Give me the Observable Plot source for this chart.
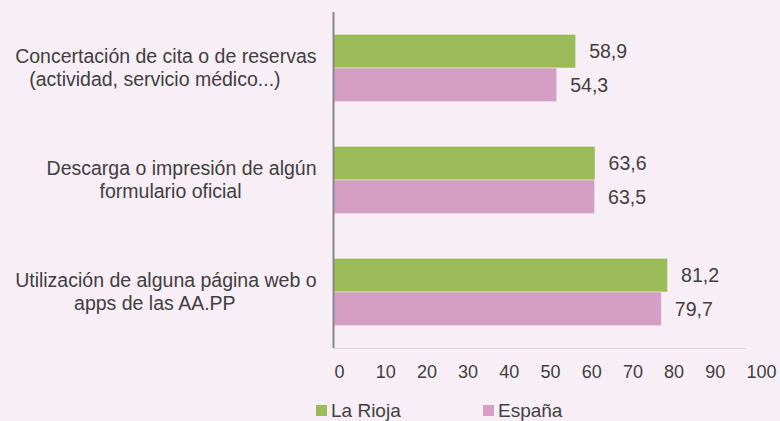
<!DOCTYPE html>
<html><head><meta charset="utf-8">
<script src="https://cdn.jsdelivr.net/npm/d3@7"></script>
<script src="https://cdn.jsdelivr.net/npm/@observablehq/plot@0.6"></script>
<style>
html,body{margin:0;padding:0;background:#F8EEF6;font-family:"Liberation Sans",Arial,sans-serif;}
#chart svg{display:block;}
#legend{display:flex;height:21px;align-items:center;font-size:19px;color:#404040;padding-left:316px;}
.item{display:flex;align-items:center;}
.item:first-child{width:167px;}
.sw{width:11px;height:11px;margin-right:4px;}
</style></head>
<body><div id="chart"></div><div id="legend"></div>
<script>
const categoryLine1 = ["Concertación de cita o de reservas", "Descarga o impresión de algún", "Utilización de alguna página web o"];
const categoryLine2 = ["(actividad, servicio médico...)", "formulario oficial", "apps de las AA.PP"];
const series = ["La Rioja", "España"];
const laRioja = [58.9, 63.6, 81.2];
const espana = [54.3, 63.5, 79.7];
const xTicks = [0, 10, 20, 30, 40, 50, 60, 70, 80, 90, 100];
const colors = ["#9BBB59", "#D49EC5"];

const W = 780, H = 400, mt = 12, mb = 52, ml = 333, mr = 35;
const pIn = 0.4, pOut = 0.2;
const categories = categoryLine1.map((l, i) => l + " " + categoryLine2[i]);
const rows = categories.map((c, i) => ({cat: c, line1: categoryLine1[i], line2: categoryLine2[i], rioja: laRioja[i], espana: espana[i]}));
const n = categories.length;
const step = (H - mt - mb) / (n - pIn + 2 * pOut);
const bw = step * (1 - pIn);
const fmt = v => v.toFixed(1).replace(".", ",");
const txt = "#404040";
const fs = 19.5;

const ctx = document.createElement("canvas").getContext("2d");
ctx.font = fs + "px 'Liberation Sans'";

const line2Marks = rows.map(r => {
  const w1 = ctx.measureText(r.line1).width;
  return Plot.text([r], {y: "cat", frameAnchor: "left", text: "line2", textAnchor: "middle",
    dx: -17 - w1 / 2 - 11, dy: 11, fontSize: fs, fill: txt});
});

const chart = Plot.plot({
  width: W, height: H, marginTop: mt, marginBottom: mb, marginLeft: ml, marginRight: mr,
  style: {background: "transparent", fontFamily: "'Liberation Sans', Arial, sans-serif", color: txt},
  x: {domain: [0, 100]},
  y: {domain: categories, type: "band", paddingInner: pIn, paddingOuter: pOut, round: false, axis: null},
  marks: [
    Plot.frame({anchor: "bottom", stroke: "#D9D9D9"}),
    Plot.barX(rows, {x: "rioja", y: "cat", fill: colors[0], insetBottom: bw / 2, stroke: "#ffffff", strokeOpacity: 0.4, strokeWidth: 1}),
    Plot.barX(rows, {x: "espana", y: "cat", fill: colors[1], insetTop: bw / 2, stroke: "#ffffff", strokeOpacity: 0.4, strokeWidth: 1}),
    Plot.ruleX([0], {stroke: "#878787", strokeWidth: 2}),
    Plot.text(rows, {x: "rioja", y: "cat", text: d => fmt(d.rioja), dx: 13, dy: -bw / 4, textAnchor: "start", fontSize: fs, fill: txt}),
    Plot.text(rows, {x: "espana", y: "cat", text: d => fmt(d.espana), dx: 13, dy: bw / 4, textAnchor: "start", fontSize: fs, fill: txt}),
    Plot.text(rows, {y: "cat", frameAnchor: "left", text: "line1", textAnchor: "end", dx: -17, dy: -11.5, fontSize: fs, fill: txt}),
    ...line2Marks,
    Plot.axisX(xTicks, {tickSize: 0, tickPadding: 17, textAnchor: "start", dx: 1, fontSize: 18, fill: txt, label: null})
  ]
});
document.getElementById("chart").append(chart);

const leg = document.getElementById("legend");
series.forEach((s, i) => {
  const it = document.createElement("div");
  it.className = "item";
  it.innerHTML = `<span class="sw" style="background:${colors[i]}"></span><span>${s}</span>`;
  leg.append(it);
});
</script>
</body></html>
